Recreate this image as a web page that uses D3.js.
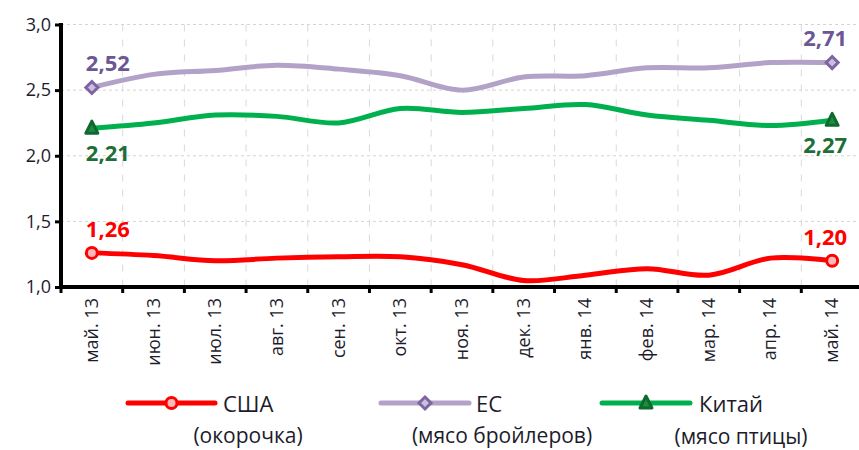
<!DOCTYPE html>
<html><head><meta charset="utf-8">
<script src="https://cdn.jsdelivr.net/npm/d3@7"></script>
<style>body{margin:0;background:#fff;} text{font-family:"Open Sans",sans-serif;}</style>
</head><body>
<svg id="c" width="859" height="450"></svg>
<script>
const categories = ["май. 13","июн. 13","июл. 13","авг. 13","сен. 13","окт. 13","ноя. 13","дек. 13","янв. 14","фев. 14","мар. 14","апр. 14","май. 14"];
const usa = [1.26,1.24,1.20,1.22,1.23,1.23,1.17,1.05,1.09,1.14,1.09,1.22,1.20];
const eu = [2.52,2.62,2.65,2.69,2.66,2.61,2.50,2.60,2.61,2.67,2.67,2.71,2.71];
const china = [2.21,2.25,2.31,2.30,2.25,2.36,2.33,2.36,2.39,2.31,2.27,2.23,2.27];
const yTicks = [1.0,1.5,2.0,2.5,3.0];
const seriesNames = ["США","ЕС","Китай"];
const seriesSub = ["(окорочка)","(мясо бройлеров)","(мясо птицы)"];

const svg = d3.select("#c");
const x = d3.scaleBand().domain(categories).range([61,863]).padding(0);
const y = d3.scaleLinear().domain([1,3]).range([287,24.5]);
const cx = c => x(c) + x.bandwidth()/2;
const fmt = v => v.toFixed(2).replace(".",",");

// gridlines
svg.append("g").selectAll("line").data(yTicks.filter(v=>v>1)).join("line")
  .attr("x1",61).attr("x2",859).attr("y1",d=>y(d)).attr("y2",d=>y(d))
  .attr("stroke","#d4d4d4").attr("stroke-width",1).attr("stroke-dasharray","3,3");
svg.append("g").selectAll("line").data(categories.slice(1)).join("line")
  .attr("x1",d=>x(d)).attr("x2",d=>x(d)).attr("y1",y(3)).attr("y2",y(1))
  .attr("stroke","#d9d9d9").attr("stroke-width",1).attr("stroke-dasharray","7,8");

// axes
const yAxis = svg.append("g").attr("transform","translate(61,0)")
  .call(d3.axisLeft(y).tickValues(yTicks).tickSize(6).tickFormat(d=>d.toFixed(1).replace(".",",")));
yAxis.select(".domain").attr("stroke","#000").attr("stroke-width",4).attr("d",`M0,${y(3)-1.5}V${y(1)}`);
yAxis.selectAll(".tick line").attr("stroke","#000").attr("stroke-width",3);
yAxis.selectAll(".tick text").attr("font-size",18).attr("fill","#1c1c2c").attr("x",-10).style("font-family","Open Sans");

const xg = svg.append("g");
xg.append("line").attr("x1",59).attr("x2",863).attr("y1",y(1)).attr("y2",y(1)).attr("stroke","#000").attr("stroke-width",4);
xg.selectAll("line.t").data(categories).join("line").attr("class","t")
  .attr("x1",d=>x(d)).attr("x2",d=>x(d)).attr("y1",y(1)).attr("y2",y(1)+6).attr("stroke","#000").attr("stroke-width",3);
xg.selectAll("text").data(categories).join("text")
  .attr("transform",d=>`translate(${cx(d)+6},298) rotate(-90)`)
  .attr("text-anchor","end").attr("font-size",18).attr("fill","#1c1c2c").text(d=>d);

// lines
const line = d3.line().x((d,i)=>cx(categories[i])).y(d=>y(d)).curve(d3.curveCatmullRom.alpha(0.5));
const series = [
  {data:eu, color:"#b3a2c7", mark:"#7f64a2", fill:"#cbbfe0", lab:"#6c5796", type:"diamond", pos:[-1,-1]},
  {data:china, color:"#00b04f", mark:"#0d6a2c", fill:"#1f8a45", lab:"#1e6e38", type:"triangle", pos:[1,1]},
  {data:usa, color:"#ff0000", mark:"#ff0000", fill:"#ffb7b7", lab:"#ff0000", type:"circle", pos:[-1,-1]}
];
function marker(g,type,px,py,s){
  if(type==="circle") g.append("circle").attr("cx",px).attr("cy",py).attr("r",5.5).attr("fill",s.fill).attr("stroke",s.mark).attr("stroke-width",3);
  else if(type==="diamond") g.append("path").attr("d",`M${px},${py-6}L${px+6},${py}L${px},${py+6}L${px-6},${py}Z`).attr("fill",s.fill).attr("stroke",s.mark).attr("stroke-width",3);
  else g.append("path").attr("d",`M${px},${py-7}L${px+6},${py+5}L${px-6},${py+5}Z`).attr("fill",s.fill).attr("stroke",s.mark).attr("stroke-width",3).attr("stroke-linejoin","round");
}
series.forEach(s=>{
  svg.append("path").attr("d",line(s.data)).attr("fill","none").attr("stroke",s.color).attr("stroke-width",5).attr("stroke-linecap","round");
});
series.forEach(s=>{
  const n = s.data.length-1;
  [0,n].forEach((i,k)=>{
    const px = cx(categories[i]), py = y(s.data[i]);
    marker(svg,s.type,px,py,s);
    const dy = s.pos[k] < 0 ? -22 : 27;
    svg.append("text").attr("x",px + (i===0?16:-7)).attr("y",py+dy).attr("text-anchor","middle")
      .attr("dominant-baseline","middle").attr("font-size",22).attr("font-weight","bold").attr("fill",s.lab).text(fmt(s.data[i]));
  });
});

// legend
const leg = [
  {s:series[2], x1:128, x2:215, tx:223, sx:248},
  {s:series[0], x1:381, x2:469, tx:476, sx:502},
  {s:series[1], x1:602, x2:690, tx:699, sx:741}
];
leg.forEach((L,i)=>{
  const g = svg.append("g");
  g.append("line").attr("x1",L.x1).attr("x2",L.x2).attr("y1",403).attr("y2",403).attr("stroke",L.s.color).attr("stroke-width",5).attr("stroke-linecap","round");
  marker(g,L.s.type,(L.x1+L.x2)/2,403,L.s);
  g.append("text").attr("x",L.tx).attr("y",403).attr("dominant-baseline","central").attr("font-size",22).attr("fill","#1c1c2c").text(seriesNames[i]);
  g.append("text").attr("x",L.sx).attr("y",i===2?436:435).attr("dominant-baseline","central").attr("text-anchor","middle").attr("font-size",21).attr("fill","#1c1c2c").text(seriesSub[i]);
});
</script>
</body></html>
